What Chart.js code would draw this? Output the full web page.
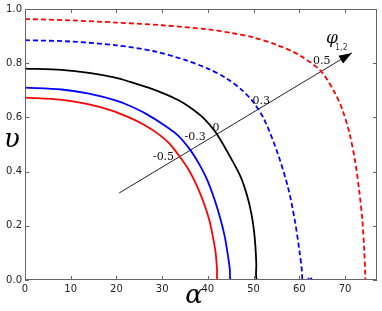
<!DOCTYPE html>
<html>
<head>
<meta charset="utf-8">
<script src="https://cdn.jsdelivr.net/npm/chart.js@4/dist/chart.umd.min.js"></script>
<style>
  body { margin: 0; background: #fff; }
  canvas { display: block; }
</style>
</head>
<body>
<canvas id="chart" width="382" height="311"></canvas>
<script>
// curves: alpha on x, upsilon on y
const redAlpha   = [0, 8, 14, 19, 23, 26, 28.9, 31.5, 33.9, 35.9, 37.7, 39.1, 40.3, 41.1, 41.7, 42.0, 42.1, 43.0];
const redV       = [0.673, 0.665, 0.648, 0.625, 0.598, 0.573, 0.542, 0.505, 0.454, 0.404, 0.344, 0.285, 0.222, 0.16, 0.10, 0.04, 0, 0];
const blueAlpha  = [0, 8, 14, 20, 23, 26.5, 30.4, 33.5, 36.1, 38.2, 39.9, 41.5, 42.8, 43.7, 44.3, 44.8, 45.0, 46.3];
const blueV      = [0.71, 0.703, 0.688, 0.662, 0.642, 0.613, 0.572, 0.533, 0.481, 0.425, 0.368, 0.295, 0.222, 0.16, 0.10, 0.04, 0, 0];
const blackAlpha = [0, 8, 14, 20, 23, 27, 30.4, 33.5, 36.2, 38.9, 41.7, 44.7, 47.2, 48.5, 49.5, 50.1, 50.4, 50.6, 50.7, 52.3];
const blackV     = [0.78, 0.775, 0.764, 0.746, 0.731, 0.71, 0.688, 0.664, 0.636, 0.60, 0.545, 0.46, 0.38, 0.316, 0.247, 0.18, 0.124, 0.06, 0, 0];
const blueDashAlpha = [0, 10, 20, 28, 35, 40, 44, 47.5, 50, 52.4, 55.3, 57.5, 59, 60.1, 60.6, 60.75, 61.8, 62.3, 62.8];
const blueDashV     = [0.885, 0.88, 0.866, 0.845, 0.812, 0.78, 0.745, 0.70, 0.655, 0.59, 0.466, 0.344, 0.222, 0.10, 0.03, 0, 0, 0.012, 0];
const redDashAlpha  = [0, 10, 20, 30, 40, 45, 50, 55, 60, 64.7, 67.8, 69.5, 71.0, 72.2, 73.1, 73.8, 74.2, 74.4, 74.45];
const redDashV      = [0.963, 0.958, 0.95, 0.94, 0.925, 0.912, 0.895, 0.868, 0.83, 0.771, 0.69, 0.625, 0.54, 0.44, 0.33, 0.22, 0.11, 0.03, 0];

// the phi arrow and its labels
const arrowAlpha = [20.6, 71.5];
const arrowV     = [0.321, 0.838];
const phiLabels  = ["0.5", "0.3", "0", "-0.3", "-0.5"];
const phiLabelAlpha = [64.9, 51.7, 41.8, 37.2, 30.3];
const phiLabelV     = [0.806, 0.661, 0.561, 0.526, 0.454];

const xTicks = [0, 10, 20, 30, 40, 50, 60, 70];
const yTicks = [0, 0.2, 0.4, 0.6, 0.8, 1.0];

function pts(xs, ys) {
  return xs.map((x, i) => ({ x: x, y: ys[i] }));
}

function curve(xs, ys, color, dash) {
  return {
    data: pts(xs, ys),
    borderColor: color,
    borderWidth: 1.8,
    borderDash: dash || [],
    pointRadius: 0,
    showLine: true,
    fill: false,
    tension: 0.3
  };
}

const extras = {
  id: 'extras',
  afterDraw(chart) {
    const ctx = chart.ctx;
    const xs = chart.scales.x, ys = chart.scales.y;
    const a = chart.chartArea;
    ctx.save();

    // frame
    ctx.strokeStyle = '#666';
    ctx.lineWidth = 1;
    ctx.strokeRect(a.left + 0.5, a.top + 0.5, a.right - a.left - 1, a.bottom - a.top - 1);

    // inward ticks on all four sides
    ctx.beginPath();
    xTicks.forEach(t => {
      const px = Math.round(xs.getPixelForValue(t)) + 0.5;
      ctx.moveTo(px, a.bottom); ctx.lineTo(px, a.bottom - 4);
      ctx.moveTo(px, a.top); ctx.lineTo(px, a.top + 4);
    });
    yTicks.forEach(t => {
      const py = Math.round(ys.getPixelForValue(t)) + 0.5;
      ctx.moveTo(a.left, py); ctx.lineTo(a.left + 4, py);
      ctx.moveTo(a.right, py); ctx.lineTo(a.right - 4, py);
    });
    ctx.stroke();

    // arrow head
    const x0 = xs.getPixelForValue(arrowAlpha[0]), y0 = ys.getPixelForValue(arrowV[0]);
    const x1 = xs.getPixelForValue(arrowAlpha[1]), y1 = ys.getPixelForValue(arrowV[1]);
    const ang = Math.atan2(y1 - y0, x1 - x0);
    ctx.fillStyle = '#000';
    ctx.beginPath();
    ctx.moveTo(x1, y1);
    ctx.lineTo(x1 - 13 * Math.cos(ang) + 4.5 * Math.sin(ang), y1 - 13 * Math.sin(ang) - 4.5 * Math.cos(ang));
    ctx.lineTo(x1 - 13 * Math.cos(ang) - 4.5 * Math.sin(ang), y1 - 13 * Math.sin(ang) + 4.5 * Math.cos(ang));
    ctx.closePath();
    ctx.fill();

    // phi labels
    ctx.fillStyle = '#111';
    ctx.font = '11px "DejaVu Serif"';
    ctx.textAlign = 'center';
    ctx.textBaseline = 'middle';
    phiLabels.forEach((s, i) => {
      ctx.fillText(s, xs.getPixelForValue(phiLabelAlpha[i]), ys.getPixelForValue(phiLabelV[i]));
    });

    // phi_{1,2} near the arrow tip
    ctx.font = 'italic 17px "DejaVu Serif"';
    ctx.fillText('\u03c6', 332, 39);
    ctx.fillStyle = '#444';
    ctx.font = '8px "DejaVu Sans"';
    ctx.textAlign = 'left';
    ctx.fillText('1,2', 335, 48);

    // axis titles
    ctx.fillStyle = '#000';
    ctx.font = 'italic 26px "DejaVu Serif"';
    ctx.textAlign = 'center';
    ctx.fillText('\u03c5', 12, 140);
    ctx.fillText('\u03b1', 194, 296);
    ctx.restore();
  }
};

new Chart(document.getElementById('chart'), {
  type: 'scatter',
  data: {
    datasets: [
      curve(redAlpha, redV, '#ff0000'),
      curve(blueAlpha, blueV, '#0000ff'),
      curve(blackAlpha, blackV, '#000000'),
      curve(blueDashAlpha, blueDashV, '#0000ff', [5, 3]),
      curve(redDashAlpha, redDashV, '#ff0000', [5, 3]),
      {
        data: pts(arrowAlpha, arrowV),
        borderColor: '#222',
        borderWidth: 1,
        pointRadius: 0,
        showLine: true,
        fill: false
      }
    ]
  },
  plugins: [extras],
  options: {
    responsive: false,
    animation: false,
    layout: { padding: { left: 0, top: 8, right: 5, bottom: 0 } },
    plugins: { legend: { display: false }, tooltip: { enabled: false } },
    scales: {
      x: {
        type: 'linear',
        min: 0,
        max: 77,
        afterFit: s => { s.height = 31; },
        grid: { display: false, drawTicks: false },
        border: { display: false },
        ticks: {
          stepSize: 10,
          includeBounds: false,
          padding: 3,
          color: '#222',
          font: { family: 'DejaVu Sans', size: 10 },
          callback: v => String(v)
        }
      },
      y: {
        type: 'linear',
        min: 0,
        max: 1,
        afterFit: s => { s.width = 25; },
        grid: { display: false, drawTicks: false },
        border: { display: false },
        ticks: {
          stepSize: 0.2,
          padding: 3,
          color: '#222',
          font: { family: 'DejaVu Sans', size: 10 },
          callback: v => v.toFixed(1)
        }
      }
    }
  }
});
</script>
</body>
</html>
